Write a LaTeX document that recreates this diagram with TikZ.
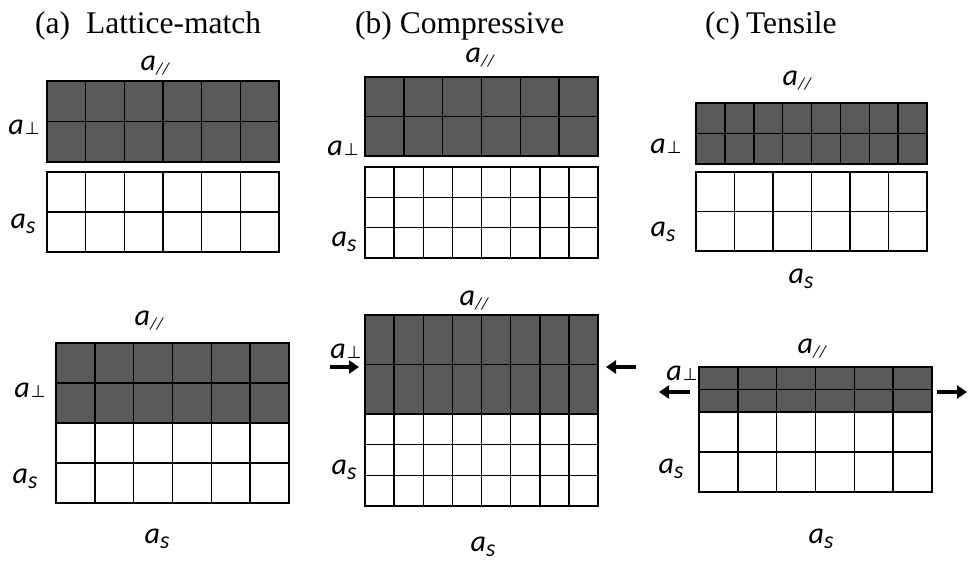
\documentclass[tikz,border=0pt]{standalone}
\usepackage{fontspec}
\setmainfont{Liberation Serif}
\newfontfamily\labf{Carlito}
\newfontfamily\symf{DejaVu Sans}
\usetikzlibrary{arrows.meta}
\definecolor{film}{RGB}{89,89,89}
\tikzset{
  gl/.style={draw=black,line width=1.5pt},
  lab/.style={inner sep=0pt,font=\labf\itshape\fontsize{30}{30}\selectfont},
  ttl/.style={inner sep=0pt,anchor=base west,font=\fontsize{31.5}{32}\selectfont},
  strainarrow/.style={line width=3.6pt,-{Triangle[length=10pt,width=13pt]}}
}
\newcommand\latt[7]{%
  \fill[#7] (#1,#2) rectangle ++(#3,#4);
  \foreach \i in {1,...,#5}{\draw[gl] ({#1+#3*(\i-1)/#5},#2) -- ++(0,#4);}
  \foreach \j in {1,...,#6}{\draw[gl] (#1,{#2+#4*(\j-1)/#6}) -- ++(#3,0);}
  \draw[gl] (#1,#2) rectangle ++(#3,#4);}
\newcommand\apar{a\raisebox{-4pt}{\fontsize{17}{17}\selectfont //}}
\newcommand\as{a\raisebox{-5pt}{\fontsize{24}{24}\selectfont s}}
\newcommand\aperp{a\hspace{1pt}{\symf\upshape\fontsize{17}{17}\selectfont ⊥}}
\begin{document}
\begin{tikzpicture}[x=1pt,y=-1pt]
\useasboundingbox (0,0) rectangle (968,564);
\fill[white] (0,0) rectangle (968,564);
% titles
\node[ttl] (ta) at (35,34) {(a)\hspace{16pt}Lattice-match};
\node[ttl] (tb) at (355,34) {(b)\hspace{8pt}Compressive};
\node[ttl] (tc) at (705,34) {(c)\hspace{6pt}Tensile};
% top row lattices
\latt{47}{81}{232}{81}{6}{2}{film}
\latt{47}{172}{232}{80}{6}{2}{white}
\latt{365}{77}{233}{79}{6}{2}{film}
\latt{365}{167}{233}{91}{8}{3}{white}
\latt{696}{103}{231}{61}{8}{2}{film}
\latt{696}{172}{231}{79}{6}{2}{white}
% bottom row lattices
\latt{56}{343}{233}{80}{6}{2}{film}
\latt{56}{423}{233}{80}{6}{2}{white}
\latt{365}{315}{233}{99}{8}{2}{film}
\latt{365}{414}{233}{92}{8}{3}{white}
\latt{699}{367}{233}{45}{6}{2}{film}
\latt{699}{412}{233}{80}{6}{2}{white}
% labels top row
\node[lab] (pa1) at (155,66) {\apar};
\node[lab] (qa1) at (24,127) {\aperp};
\node[lab] (sa1) at (23,224) {\as};
\node[lab] (pb1) at (480,58) {\apar};
\node[lab] (qb1) at (343,148) {\aperp};
\node[lab] (sb1) at (344,242) {\as};
\node[lab] (pc1) at (797,81) {\apar};
\node[lab] (qc1) at (666,146) {\aperp};
\node[lab] (sc1) at (663,232) {\as};
\node[lab] (sc1b) at (801,279) {\as};
% labels bottom row
\node[lab] (pa2) at (149,321) {\apar};
\node[lab] (qa2) at (30,390) {\aperp};
\node[lab] (sa2) at (25,479) {\as};
\node[lab] (sa2b) at (157,539) {\as};
\node[lab] (pb2) at (474,301) {\apar};
\node[lab] (qb2) at (346,351) {\aperp};
\node[lab] (sb2) at (344,470) {\as};
\node[lab] (sb2b) at (483,547) {\as};
\node[lab] (pc2) at (812,349) {\apar};
\node[lab] (qc2) at (682,373) {\aperp};
\node[lab] (sc2) at (671,469) {\as};
\node[lab] (sc2b) at (821,539) {\as};
% strain arrows
\coordinate (b1) at (330,367); \coordinate (b1e) at (359,367);
\coordinate (b2) at (636,367); \coordinate (b2e) at (606,367);
\coordinate (c1) at (690,392); \coordinate (c1e) at (659,392);
\coordinate (c2) at (937,392); \coordinate (c2e) at (967,392);
\draw[strainarrow] (b1) -- (b1e);
\draw[strainarrow] (b2) -- (b2e);
\draw[strainarrow] (c1) -- (c1e);
\draw[strainarrow] (c2) -- (c2e);
\end{tikzpicture}
\end{document}
